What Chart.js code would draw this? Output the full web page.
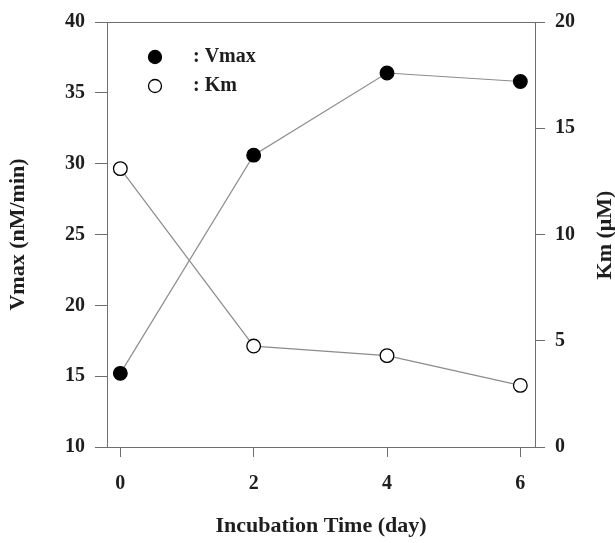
<!DOCTYPE html>
<html>
<head>
<meta charset="utf-8">
<script src="https://cdn.jsdelivr.net/npm/chart.js@4"></script>
<style>
  body { margin: 0; background: #fff; }
</style>
</head>
<body>
<canvas id="chart" width="615" height="543"></canvas>
<script>
// data
const days = [0, 2, 4, 6];
const vmax = [15.2, 30.6, 36.4, 35.8];
const km = [13.1, 4.75, 4.3, 2.9];
const xTicks = [0, 2, 4, 6];
const vmaxTicks = [10, 15, 20, 25, 30, 35, 40];
const kmTicks = [0, 5, 10, 15, 20];

const serif = '"Liberation Serif", "DejaVu Serif", serif';
const axisGray = '#6e6e6e';
const lineGray = '#8c8c8c';
const textColor = '#1e1e1e';

const toPoints = (xs, ys) => xs.map((x, i) => ({ x: x, y: ys[i] }));

// top border, right title and the legend inside the plot
const extras = {
    id: 'extras',
    afterDraw(chart) {
        const { ctx, chartArea } = chart;
        ctx.save();
        ctx.strokeStyle = axisGray;
        ctx.lineWidth = 1;
        ctx.beginPath();
        ctx.moveTo(chartArea.left - 12, chartArea.top + 0.5);
        ctx.lineTo(chartArea.right, chartArea.top + 0.5);
        ctx.stroke();

        // right axis title, reading bottom to top
        ctx.fillStyle = textColor;
        ctx.font = 'bold 22px ' + serif;
        ctx.textAlign = 'center';
        ctx.textBaseline = 'middle';
        ctx.translate(605, 235);
        ctx.rotate(-Math.PI / 2);
        ctx.fillText('Km (\u03bcM)', 0, 0);
        ctx.restore();

        // legend
        ctx.save();
        const rows = chart.data.datasets;
        rows.forEach((ds, i) => {
            const mx = chartArea.left + 48;
            const my = chartArea.top + 35 + i * 29;
            ctx.beginPath();
            ctx.arc(mx, my, 6.5, 0, Math.PI * 2);
            ctx.fillStyle = ds.pointBackgroundColor;
            ctx.fill();
            ctx.lineWidth = 1.3;
            ctx.strokeStyle = '#000';
            ctx.stroke();
            ctx.fillStyle = textColor;
            ctx.font = 'bold 20px ' + serif;
            ctx.textAlign = 'left';
            ctx.textBaseline = 'middle';
            ctx.fillText(ds.label, chartArea.left + 86, my);
        });
        ctx.restore();
    }
};

const tickFont = { family: serif, size: 20, weight: 'bold' };

new Chart(document.getElementById('chart'), {
    type: 'line',
    data: {
        datasets: [
            {
                label: ': Vmax',
                data: toPoints(days, vmax),
                yAxisID: 'y',
                borderColor: lineGray,
                borderWidth: 1.2,
                pointRadius: 6.8,
                pointBorderWidth: 1.3,
                pointBorderColor: '#000',
                pointBackgroundColor: '#000',
                tension: 0
            },
            {
                label: ': Km',
                data: toPoints(days, km),
                yAxisID: 'y1',
                borderColor: lineGray,
                borderWidth: 1.2,
                pointRadius: 6.8,
                pointBorderWidth: 1.3,
                pointBorderColor: '#000',
                pointBackgroundColor: '#fff',
                tension: 0
            }
        ]
    },
    options: {
        responsive: false,
        animation: false,
        layout: { padding: { top: 17, left: 0, right: 0, bottom: 0 } },
        plugins: {
            legend: { display: false },
            tooltip: { enabled: false }
        },
        scales: {
            x: {
                type: 'linear',
                position: 'bottom',
                min: -0.2,
                max: 6.22,
                afterBuildTicks: s => { s.ticks = xTicks.map(v => ({ value: v })); },
                afterFit: s => { s.height = 96; },
                grid: { display: true, drawOnChartArea: false, drawTicks: true, tickLength: 10, color: axisGray },
                border: { display: true, color: axisGray, width: 1 },
                ticks: { color: textColor, padding: 15, font: tickFont },
                title: {
                    display: true,
                    text: 'Incubation Time (day)',
                    color: textColor,
                    padding: { top: 0, bottom: 3 },
                    font: { family: serif, size: 22, weight: 'bold' }
                }
            },
            y: {
                position: 'left',
                min: 10,
                max: 40,
                afterBuildTicks: s => { s.ticks = vmaxTicks.map(v => ({ value: v })); },
                afterFit: s => { s.width = 107; },
                grid: { display: true, drawOnChartArea: false, drawTicks: true, tickLength: 12, color: axisGray },
                border: { display: true, color: axisGray, width: 1 },
                ticks: { color: textColor, padding: 10, font: tickFont },
                title: {
                    display: true,
                    text: 'Vmax (nM/min)',
                    color: textColor,
                    padding: { top: 5, bottom: 0 },
                    font: { family: serif, size: 22, weight: 'bold' }
                }
            },
            y1: {
                position: 'right',
                min: 0,
                max: 20,
                afterBuildTicks: s => { s.ticks = kmTicks.map(v => ({ value: v })); },
                afterFit: s => { s.width = 80; },
                grid: { display: true, drawOnChartArea: false, drawTicks: true, tickLength: 10, color: axisGray },
                border: { display: true, color: axisGray, width: 1 },
                ticks: { color: textColor, padding: 10, font: tickFont }
            }
        }
    },
    plugins: [extras]
});
</script>
</body>
</html>
